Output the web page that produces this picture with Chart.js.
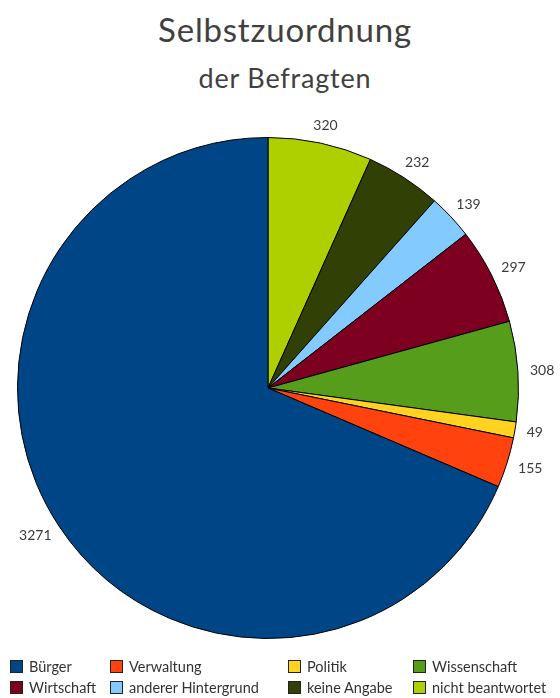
<!DOCTYPE html>
<html>
<head>
<meta charset="utf-8">
<script src="https://cdn.jsdelivr.net/npm/chart.js@4/dist/chart.umd.min.js"></script>
<style>
  body { margin: 0; background: #fff; width: 560px; height: 698px; position: relative; overflow: hidden; font-family: Lato, sans-serif; }
  #title { position: absolute; left: 0; width: 570px; top: 9px; text-align: center; font-size: 33px; color: #404040; letter-spacing: 0.8px; }
  #subtitle { position: absolute; left: 0; width: 570px; top: 61px; text-align: center; font-size: 27px; color: #404040; letter-spacing: 0.8px; }
  #wrap { position: absolute; left: 0; top: 100px; width: 560px; height: 576px; }
  #legend { position: absolute; left: 10px; top: 658px; display: grid; grid-template-columns: 100px 178px 125px 140px; row-gap: 4px; font-size: 14.5px; color: #333; z-index: 2; }
  .item { display: flex; align-items: center; white-space: nowrap; }
  .box { width: 11px; height: 11px; border: 1px solid #222; margin-right: 6px; }
</style>
</head>
<body>
<div id="title">Selbstzuordnung</div>
<div id="subtitle">der Befragten</div>
<div id="wrap"><canvas id="pie"></canvas></div>
<div id="legend"></div>
<script>
// legend order
const categories = ["Bürger", "Verwaltung", "Politik", "Wissenschaft", "Wirtschaft", "anderer Hintergrund", "keine Angabe", "nicht beantwortet"];
const counts = [3271, 155, 49, 308, 297, 139, 232, 320];
const colors = ["#004586", "#ff420e", "#ffd320", "#579d1c", "#7e0021", "#83caff", "#314004", "#aecf00"];

// the pie runs clockwise from the top starting with the last category
const drawLabels = categories.slice().reverse();
const drawCounts = counts.slice().reverse();
const drawColors = colors.slice().reverse();

const valueLabels = {
  id: "valueLabels",
  afterDatasetsDraw(chart) {
    const ctx = chart.ctx;
    const meta = chart.getDatasetMeta(0);
    ctx.save();
    ctx.font = "14px Lato, sans-serif";
    ctx.fillStyle = "#3a3a3a";
    ctx.textAlign = "center";
    ctx.textBaseline = "middle";
    meta.data.forEach((arc, i) => {
      const mid = (arc.startAngle + arc.endAngle) / 2;
      const dx = Math.cos(mid), dy = Math.sin(mid);
      const txt = String(drawCounts[i]);
      const w = ctx.measureText(txt).width;
      const r = arc.outerRadius + 12;
      const x = arc.x + dx * r + dx * w / 2;
      const y = arc.y + dy * r + dy * 6;
      ctx.fillText(txt, x, y);
    });
    ctx.restore();
  }
};

new Chart(document.getElementById("pie").getContext("2d"), {
  type: "pie",
  data: {
    labels: drawLabels,
    datasets: [{
      data: drawCounts,
      backgroundColor: drawColors,
      borderColor: "#000",
      borderWidth: 1
    }]
  },
  options: {
    responsive: true,
    maintainAspectRatio: false,
    animation: false,
    layout: { padding: { left: 17, right: 41, top: 37, bottom: 37 } },
    plugins: {
      legend: { display: false },
      tooltip: { enabled: false }
    }
  },
  plugins: [valueLabels]
});

const legend = document.getElementById("legend");
categories.forEach((name, i) => {
  const item = document.createElement("div");
  item.className = "item";
  const box = document.createElement("span");
  box.className = "box";
  box.style.background = colors[i];
  item.appendChild(box);
  item.appendChild(document.createTextNode(name));
  legend.appendChild(item);
});
</script>
</body>
</html>
